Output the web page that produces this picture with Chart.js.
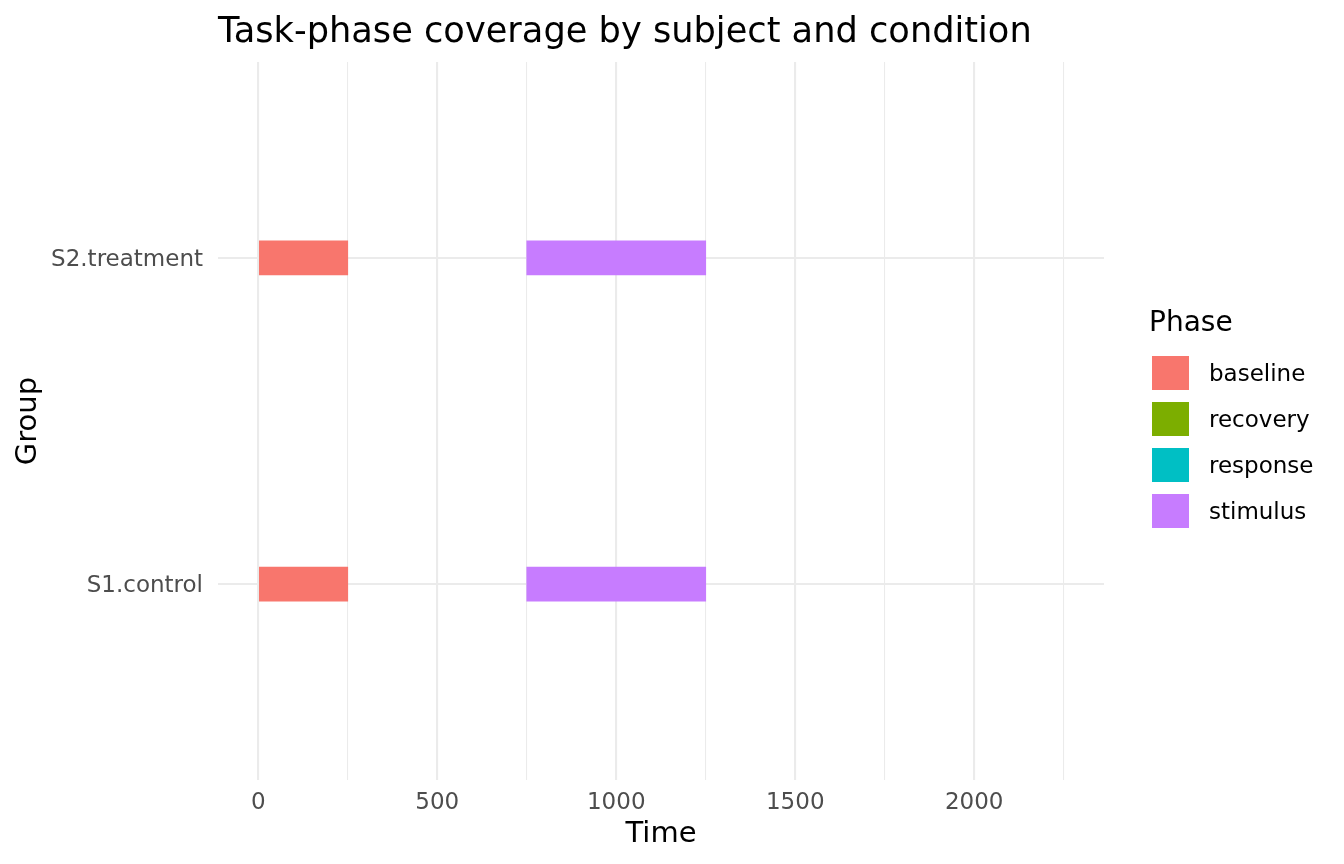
<!DOCTYPE html>
<html>
<head>
<meta charset="utf-8">
<title>Task-phase coverage by subject and condition</title>
<script src="https://cdn.jsdelivr.net/npm/chart.js@4.4.0/dist/chart.umd.min.js"></script>
<style>
  body { margin:0; background:#fff; font-family:"DejaVu Sans", sans-serif; }
  #wrap { position:relative; width:1344px; height:864px; }
  #chart { position:absolute; left:0; top:0; }
  #title { position:absolute; left:218px; top:12px; font-size:35.2px; line-height:1; color:#000; white-space:nowrap; }
  #legend { position:absolute; left:0; top:0; }
  #legend .ttl { position:absolute; left:1149px; top:308px; font-size:28px; line-height:1; color:#000; }
  #legend .key { position:absolute; left:1152px; width:37px; height:34px; }
  #legend .lbl { position:absolute; left:1209px; font-size:23px; line-height:34px; color:#000; white-space:nowrap; }
</style>
</head>
<body>
<div id="wrap">
  <canvas id="chart" width="1344" height="864"></canvas>
  <div id="title">Task-phase coverage by subject and condition</div>
  <div id="legend"></div>
</div>
<script>
// groups on the y axis, bottom to top
const groups = ["S1.control", "S2.treatment"];
const phases = ["baseline", "recovery", "response", "stimulus"];
const phaseColors = ["#F8766D", "#7CAE00", "#00BFC4", "#C77CFF"];

// [start, end] per group (same order as groups), null = nothing drawn
const baseline = [[0, 250], [0, 250]];
const recovery = [null, null];
const response = [null, null];
const stimulus = [[750, 1250], [750, 1250]];

const xMajor = [0, 500, 1000, 1500, 2000];
const xMinor = [250, 750, 1250, 1750, 2250];
const xMin = -112.5, xMax = 2362.5;

const phaseData = [baseline, recovery, response, stimulus];

let datasets = phases.map((p, i) => ({
  label: p,
  data: phaseData[i].map((iv, g) => iv ? {x: iv, y: g} : null).filter(d => d),
  backgroundColor: phaseColors[i],
  borderWidth: 0,
  grouped: false,
  barThickness: 34
}));

let tickFont = {family: "DejaVu Sans", size: 23};
let titleFont = {family: "DejaVu Sans", size: 29};
let xTicks = xMajor.concat(xMinor).sort((a, b) => a - b);

new Chart(document.getElementById("chart"), {
  type: "bar",
  data: {datasets: datasets},
  options: {
    responsive: false,
    animation: false,
    indexAxis: "y",
    layout: {padding: {top: 62, right: 240, left: 0, bottom: 0}},
    plugins: {legend: {display: false}, tooltip: {enabled: false}, title: {display: false}},
    scales: {
      x: {
        type: "linear",
        min: xMin, max: xMax,
        offset: false,
        afterBuildTicks: s => { s.ticks = xTicks.map(v => ({value: v})); },
        afterFit: s => { s.height = 84; },
        ticks: {
          autoSkip: false, maxRotation: 0, padding: 9,
          color: "#4D4D4D", font: tickFont,
          callback: v => xMajor.includes(v) ? String(v) : ""
        },
        grid: {
          offset: false,
          drawTicks: false,
          color: "#EBEBEB",
          lineWidth: c => (c.tick && xMajor.includes(c.tick.value)) ? 2.1 : 1.05
        },
        border: {display: false},
        title: {display: true, text: "Time", color: "#000", font: titleFont, padding: {top: 0, bottom: 12}}
      },
      y: {
        type: "linear",
        min: -0.6, max: 1.6,
        offset: false,
        afterBuildTicks: s => { s.ticks = groups.map((g, i) => ({value: i})); },
        afterFit: s => { s.width = 218; },
        ticks: {
          autoSkip: false, padding: 15, labelOffset: 2,
          color: "#4D4D4D", font: tickFont,
          callback: v => groups[v] !== undefined ? groups[v] : ""
        },
        grid: {offset: false, drawTicks: false, color: "#EBEBEB", lineWidth: 2.1},
        border: {display: false},
        title: {display: true, text: "Group", color: "#000", font: titleFont, padding: {top: 11, bottom: 0}}
      }
    }
  }
});

// legend
let lg = document.getElementById("legend");
let t = document.createElement("div");
t.className = "ttl";
t.textContent = "Phase";
lg.appendChild(t);
phases.forEach((p, i) => {
  let top = 356 + i * 46;
  let k = document.createElement("div");
  k.className = "key";
  k.style.top = top + "px";
  k.style.background = phaseColors[i];
  lg.appendChild(k);
  let l = document.createElement("div");
  l.className = "lbl";
  l.style.top = top + "px";
  l.textContent = p;
  lg.appendChild(l);
});
</script>
</body>
</html>
